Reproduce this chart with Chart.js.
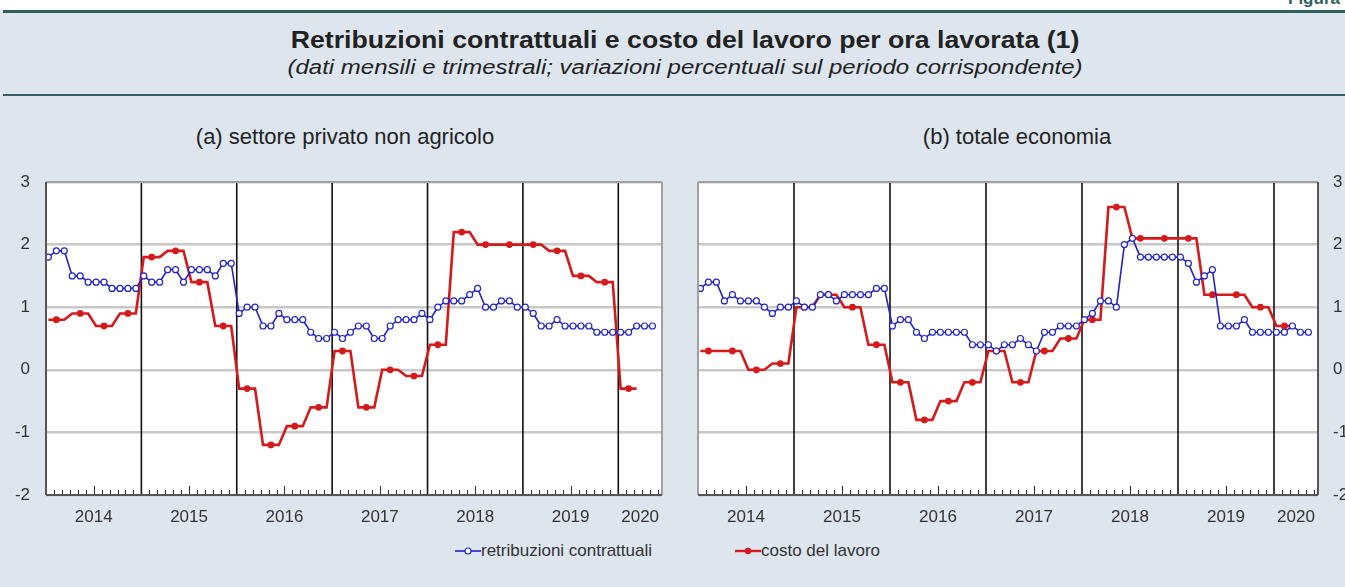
<!DOCTYPE html>
<html><head><meta charset="utf-8">
<script src="https://cdn.jsdelivr.net/npm/chart.js@4.4.1/dist/chart.umd.min.js"></script>
<style>
html,body{margin:0;padding:0;}
body{width:1345px;height:587px;position:relative;overflow:hidden;background:#dde6ef;font-family:'Liberation Sans',Arial,sans-serif;color:#222;}
#topwhite{position:absolute;left:0;top:0;width:1345px;height:10px;background:#fff;}
#figura{position:absolute;left:1288px;top:-11px;font-weight:bold;font-size:17px;color:#2f5f60;white-space:nowrap;}
.rule{position:absolute;left:3px;width:1342px;height:3px;background:#2f5f60;}
#title{position:absolute;left:0;width:1370px;top:27px;text-align:center;font-weight:bold;font-size:23px;white-space:nowrap;transform:scaleX(1.16);transform-origin:685px 50%;}
#subtitle{position:absolute;left:0;width:1370px;top:56px;text-align:center;font-style:italic;font-size:20px;white-space:nowrap;transform:scaleX(1.2);transform-origin:685px 50%;}
.ptitle{position:absolute;top:124px;font-size:22px;white-space:nowrap;transform:translateX(-50%);}
canvas{position:absolute;}
#legend{position:absolute;top:541px;left:0;width:1345px;height:22px;font-size:17px;color:#333;}
.litem{position:absolute;top:0;white-space:nowrap;display:flex;align-items:center;}
</style>
</head><body>
<div id="topwhite"></div>
<div id="figura">Figura 5</div>
<div class="rule" style="top:10px"></div>
<div class="rule" style="top:94px;height:2px"></div>
<div id="title">Retribuzioni contrattuali e costo del lavoro per ora lavorata (1)</div>
<div id="subtitle">(dati mensili e trimestrali; variazioni percentuali sul periodo corrispondente)</div>
<div class="ptitle" style="left:345px">(a) settore privato non agricolo</div>
<div class="ptitle" style="left:1017px">(b) totale economia</div>
<canvas id="c1" width="680" height="375" style="left:0;top:150px"></canvas>
<canvas id="c2" width="665" height="375" style="left:680px;top:150px"></canvas>
<div id="legend">
  <div class="litem" style="left:455px"><svg width="26" height="14"><line x1="0" y1="7" x2="26" y2="7" stroke="#2323c8" stroke-width="1.6"/><circle cx="13" cy="7" r="3" fill="#fff" stroke="#2323c8" stroke-width="1.2"/></svg><span>retribuzioni contrattuali</span></div>
  <div class="litem" style="left:735px"><svg width="26" height="14"><line x1="0" y1="7" x2="26" y2="7" stroke="#d41a1a" stroke-width="2.4"/><circle cx="13" cy="7" r="3.2" fill="#d41a1a"/></svg><span>costo del lavoro</span></div>
</div>
<script>
// ---- data (monthly from Jan 2014; quarterly from 2014Q1) ----
const yearLabels = ['2014','2015','2016','2017','2018','2019','2020'];
const blueA = [
  1.8,1.9,1.9,1.5,1.5,1.4,1.4,1.4,1.3,1.3,1.3,1.3,
  1.5,1.4,1.4,1.6,1.6,1.4,1.6,1.6,1.6,1.5,1.7,1.7,
  0.9,1.0,1.0,0.7,0.7,0.9,0.8,0.8,0.8,0.6,0.5,0.5,
  0.6,0.5,0.6,0.7,0.7,0.5,0.5,0.7,0.8,0.8,0.8,0.9,
  0.8,1.0,1.1,1.1,1.1,1.2,1.3,1.0,1.0,1.1,1.1,1.0,
  1.0,0.9,0.7,0.7,0.8,0.7,0.7,0.7,0.7,0.6,0.6,0.6,
  0.6,0.6,0.7,0.7,0.7
];
const redA = [
  0.8,0.9,0.7,0.9,
  1.8,1.9,1.4,0.7,
  -0.3,-1.2,-0.9,-0.6,
  0.3,-0.6,0.0,-0.1,
  0.4,2.2,2.0,2.0,
  2.0,1.9,1.5,1.4,
  -0.3
];
const blueB = [
  1.3,1.4,1.4,1.1,1.2,1.1,1.1,1.1,1.0,0.9,1.0,1.0,
  1.1,1.0,1.0,1.2,1.2,1.1,1.2,1.2,1.2,1.2,1.3,1.3,
  0.7,0.8,0.8,0.6,0.5,0.6,0.6,0.6,0.6,0.6,0.4,0.4,
  0.4,0.3,0.4,0.4,0.5,0.4,0.3,0.6,0.6,0.7,0.7,0.7,
  0.8,0.9,1.1,1.1,1.0,2.0,2.1,1.8,1.8,1.8,1.8,1.8,
  1.8,1.7,1.4,1.5,1.6,0.7,0.7,0.7,0.8,0.6,0.6,0.6,
  0.6,0.6,0.7,0.6,0.6
];
const redB = [
  0.3,0.3,0.0,0.1,
  1.0,1.2,1.0,0.4,
  -0.2,-0.8,-0.5,-0.2,
  0.3,-0.2,0.3,0.5,
  0.8,2.6,2.1,2.1,
  2.1,1.2,1.2,1.0,
  0.7
];
const yTicks = [-2,-1,0,1,2,3];
const seriesNames = ['retribuzioni contrattuali','costo del lavoro'];

const OFF = 0.3;      // position of a month's point inside the month
const XMAX = 77.5;    // axis ends mid-June 2020
const BLUE = '#2323c8', RED = '#d41a1a';

function monthly(arr){ return arr.map((v,i)=>({x:i+OFF,y:v})); }
function quarterlyAsMonthly(arr){ return arr.flatMap((v,q)=>[0,1,2].map(k=>({x:q*3+k+OFF,y:v}))); }

const decor = {
  id:'decor',
  beforeDraw(chart){
    const {ctx, chartArea:a} = chart;
    ctx.save(); ctx.fillStyle='#fff';
    ctx.fillRect(a.left,a.top,a.right-a.left,a.bottom-a.top); ctx.restore();
  },
  beforeDatasetsDraw(chart){
    const {ctx, chartArea:a, scales:{x}} = chart;
    ctx.save();
    ctx.strokeStyle='#111'; ctx.lineWidth=1.6;
    for(let i=1;i<yearLabels.length;i++){
      const px=x.getPixelForValue(i*12);
      ctx.beginPath(); ctx.moveTo(px,a.top); ctx.lineTo(px,a.bottom); ctx.stroke();
    }
    ctx.strokeStyle='#333'; ctx.lineWidth=1.1;
    for(let m=1;m<XMAX;m++){
      if(m%12===0) continue;
      const len = (m%12===6)?9:5;
      const px=Math.round(x.getPixelForValue(m))+0.5;
      ctx.beginPath(); ctx.moveTo(px,a.bottom); ctx.lineTo(px,a.bottom-len); ctx.stroke();
    }
    ctx.restore();
  },
  afterDatasetsDraw(chart){
    const {ctx, chartArea:a} = chart;
    const right = chart.options.plugins.decor.axisRight;
    ctx.save();
    ctx.lineWidth=2; ctx.strokeStyle='#a0a0a0';
    ctx.beginPath(); ctx.moveTo(a.left,a.top); ctx.lineTo(a.right,a.top); ctx.stroke();
    ctx.beginPath();
    if(right){ ctx.moveTo(a.left,a.top); ctx.lineTo(a.left,a.bottom);} else { ctx.moveTo(a.right,a.top); ctx.lineTo(a.right,a.bottom);} 
    ctx.stroke();
    ctx.strokeStyle='#555';
    ctx.beginPath(); ctx.moveTo(a.left,a.bottom); ctx.lineTo(a.right,a.bottom); ctx.stroke();
    ctx.beginPath();
    if(right){ ctx.moveTo(a.right,a.top); ctx.lineTo(a.right,a.bottom);} else { ctx.moveTo(a.left,a.top); ctx.lineTo(a.left,a.bottom);} 
    ctx.stroke();
    ctx.restore();
  }
};

function makeChart(id, blue, red, axisRight){
  return new Chart(document.getElementById(id), {
    type:'line',
    data:{datasets:[
      {label:seriesNames[0], data:monthly(blue), borderColor:BLUE, borderWidth:1.6,
       pointRadius:3, pointBorderWidth:1.2, pointBackgroundColor:'#fff', pointBorderColor:BLUE, tension:0},
      {label:seriesNames[1], data:quarterlyAsMonthly(red), borderColor:RED, borderWidth:2.6,
       pointRadius:c=>(c.dataIndex%3===1?3.4:0), pointBorderWidth:0, pointBackgroundColor:RED, pointBorderColor:RED, tension:0}
    ]},
    options:{
      responsive:false, animation:false, devicePixelRatio:1,
      layout:{padding:{left:axisRight?18:0, right:axisRight?0:18, top:32, bottom:0}},
      plugins:{legend:{display:false}, tooltip:{enabled:false}, decor:{axisRight}},
      scales:{
        x:{type:'linear', min:0, max:XMAX,
           afterBuildTicks(s){ s.ticks = yearLabels.map((l,i)=>({value: Math.min(i*12+6, (i*12+XMAX)/2)})); },
           afterFit(s){ s.height = 30; },
           ticks:{autoSkip:false, maxRotation:0, padding:4, color:'#333', font:{family:"'Liberation Sans', Arial", size:17},
                  callback:(v,i)=>yearLabels[i]},
           grid:{display:false}, border:{display:false}},
        y:{position: axisRight?'right':'left', min:-2, max:3,
           afterBuildTicks(s){ s.ticks = yTicks.map(v=>({value:v})); },
           afterFit(s){ s.width = axisRight?27:46; },
           ticks:{padding:axisRight?15:16, color:'#333', font:{family:"'Liberation Sans', Arial", size:17}},
           grid:{color:'#c8c8c8', lineWidth:2.4, drawTicks:false}, border:{display:false}}
      }
    },
    plugins:[decor]
  });
}
makeChart('c1', blueA, redA, false);
makeChart('c2', blueB, redB, true);
</script>
</body></html>
